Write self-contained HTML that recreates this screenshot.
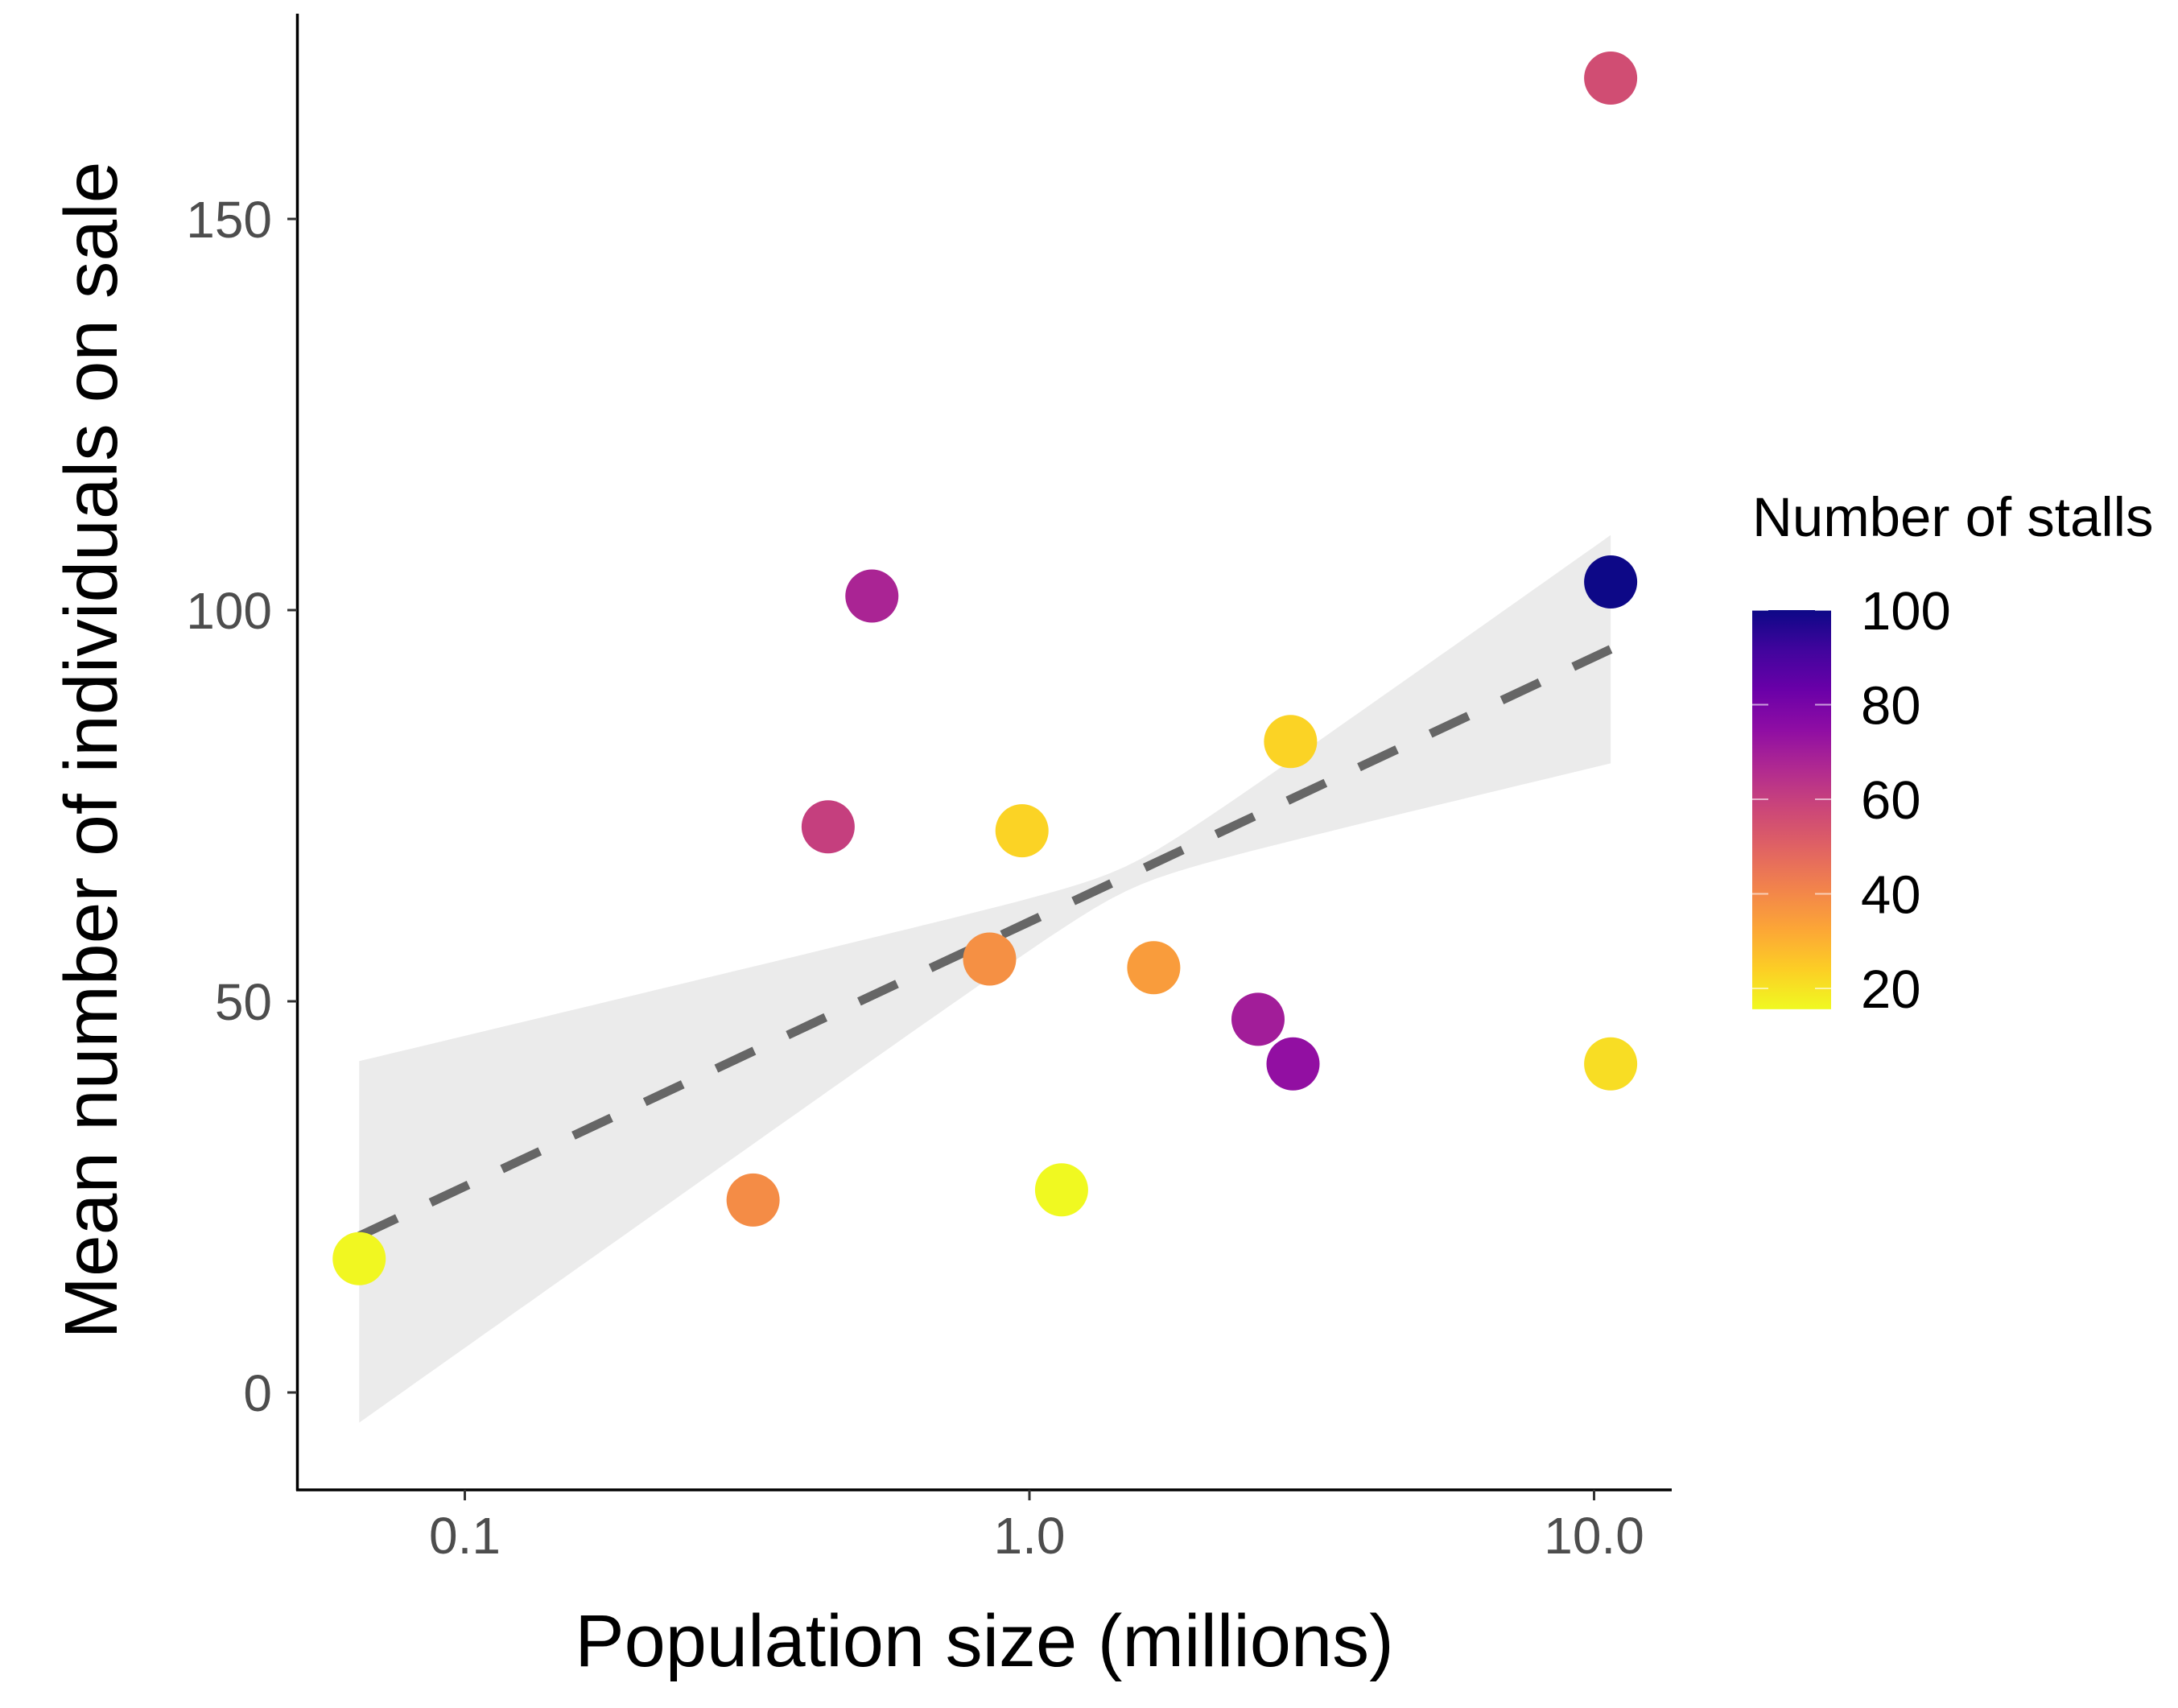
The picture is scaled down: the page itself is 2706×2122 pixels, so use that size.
<!DOCTYPE html>
<html><head><meta charset="utf-8"><style>
html,body{margin:0;padding:0;background:#fff;}
svg{display:block;font-family:"Liberation Sans",Arial,sans-serif;}
</style></head><body>
<svg id="chart" width="2706" height="2122" viewBox="0 0 2706 2122">
<defs>
<linearGradient id="plasma" x1="0" y1="1" x2="0" y2="0">
</linearGradient>
</defs>
<g id="ribbon-layer"></g>
<g id="line-layer"></g>
<g id="point-layer"></g>
<g id="axes-layer"></g>
<text transform="translate(145,932) rotate(-90)" text-anchor="middle" font-size="93" fill="#000">Mean number of individuals on sale</text>
<text x="1223" y="2070" text-anchor="middle" font-size="92" fill="#000">Population size (millions)</text>
<text x="2177" y="666" font-size="69" fill="#000">Number of stalls</text>
<g id="legend-layer"></g>
</svg>
<script>
const popMillions = [10.7, 10.7, 10.7, 0.526, 0.44, 0.97, 2.9, 0.85, 1.66, 2.54, 2.93, 0.324, 1.14, 0.065];
const meanIndividuals = [168, 103.6, 42, 101.8, 72.3, 71.8, 83.2, 55.4, 54.3, 47.7, 42, 24.6, 25.9, 17.1];
const stalls = [56, 100, 21, 68, 60, 23, 23, 38, 35, 70, 74, 39, 15, 16];
const yTicks = [0, 50, 100, 150];
const xTicks = [0.1, 1, 10];
const xTickLabels = ["0.1", "1.0", "10.0"];
const legendTicks = [20, 40, 60, 80, 100];
const fitEnds = [0.065, 10.7];
const fitValues = [20, 95];
const ribbonLow = [-3.8, 80.5];
const ribbonHigh = [42.3, 109.5];

const NS = "http://www.w3.org/2000/svg";
const svg = document.getElementById("chart");
function X(v){ return 1279 + 701.5 * Math.log10(v); }
function Y(v){ return 1730 - 9.72 * v; }
const cMin = 15.6, cMax = 100;
const plasmaStops = ["#0d0887","#41049d","#6a00a8","#8f0da4","#b12a90","#cc4778","#e16462","#f2844b","#fca636","#fcce25","#f0f921"];
function hex(h){ return [parseInt(h.substr(1,2),16),parseInt(h.substr(3,2),16),parseInt(h.substr(5,2),16)]; }
function colorFor(v){
  let t = (cMax - v) / (cMax - cMin); t = Math.max(0, Math.min(1, t));
  const p = t * 10, i = Math.min(9, Math.floor(p)), f = p - i;
  const a = hex(plasmaStops[i]), b = hex(plasmaStops[i+1]);
  return "rgb(" + a.map((c,k)=>Math.round(c + (b[k]-c)*f)).join(",") + ")";
}
function mk(tag, attrs, parent){
  const e = document.createElementNS(NS, tag);
  for (const k in attrs) e.setAttribute(k, attrs[k]);
  parent.appendChild(e); return e;
}
// ribbon: narrow hyperbolic band
const lt0 = Math.log10(fitEnds[0]), lt1 = Math.log10(fitEnds[1]);
const slope = (fitValues[1]-fitValues[0])/(lt1-lt0);
const hw0 = (ribbonHigh[0]-ribbonLow[0])/2, hw1 = (ribbonHigh[1]-ribbonLow[1])/2;
const tc = (hw0*lt1 + hw1*lt0)/(hw0+hw1);
const k = hw0/(tc-lt0);
const m2 = 2.5;
const up = [], lo = [];
for (let i = 0; i <= 80; i++){
  const t = lt0 + (lt1-lt0)*i/80;
  const cOff = ((ribbonHigh[0]+ribbonLow[0])/2 - fitValues[0])*(1-i/80) + ((ribbonHigh[1]+ribbonLow[1])/2 - fitValues[1])*(i/80);
  const c = fitValues[0] + slope*(t-lt0) + cOff;
  const hw = Math.sqrt(m2 + k*k*(t-tc)**2);
  const px = X(Math.pow(10,t));
  up.push(px.toFixed(1)+","+Y(c+hw).toFixed(1));
  lo.unshift(px.toFixed(1)+","+Y(c-hw).toFixed(1));
}
const rib = mk("polygon", {points: up.concat(lo).join(" "), fill:"#ebebeb"}, document.getElementById("ribbon-layer"));


const fl = mk("line", {x1:X(fitEnds[0]), y1:Y(fitValues[0]), x2:X(fitEnds[1]), y2:Y(fitValues[1]), stroke:"#666", "stroke-width":11, "stroke-dasharray":"52 46"}, document.getElementById("line-layer"));


const pl = document.getElementById("point-layer");
popMillions.forEach((p, i) => {
  const c = mk("circle", {cx:X(p), cy:Y(meanIndividuals[i]), r:33, fill:colorFor(stalls[i])}, pl);
  
  
});
const ax = document.getElementById("axes-layer");
const ya = mk("line", {x1:369.5, y1:17, x2:369.5, y2:1852, stroke:"#000", "stroke-width":3.5}, ax);


const xa = mk("line", {x1:368, y1:1851, x2:2077, y2:1851, stroke:"#000", "stroke-width":3.5}, ax);


yTicks.forEach(v => {
  mk("line", {x1:357, y1:Y(v), x2:369, y2:Y(v), stroke:"#333", "stroke-width":3}, ax);
  const t = mk("text", {x:338, y:Y(v)+23, "text-anchor":"end", "font-size":64, fill:"#4d4d4d"}, ax);
  t.textContent = v;
  
  
});
xTicks.forEach((v, i) => {
  mk("line", {x1:X(v), y1:1851, x2:X(v), y2:1864, stroke:"#333", "stroke-width":3}, ax);
  const t = mk("text", {x:X(v), y:1930, "text-anchor":"middle", "font-size":64, fill:"#4d4d4d"}, ax);
  t.textContent = xTickLabels[i];
  
  
});
// legend
const grad = document.getElementById("plasma");
for (let i = 0; i <= 20; i++){
  const v = cMin + (cMax - cMin) * i / 20;
  mk("stop", {offset:(i/20), "stop-color":colorFor(v)}, grad);
}
const lg = document.getElementById("legend-layer");
function LY(v){ return 1228 - (v - 20) * 5.875; }
const bar = mk("rect", {x:2177, y:LY(cMax), width:98, height:LY(cMin)-LY(cMax), fill:"url(#plasma)"}, lg);


legendTicks.forEach(v => {
  mk("line", {x1:2177, y1:LY(v), x2:2197, y2:LY(v), stroke:"#fff", "stroke-opacity":0.6, "stroke-width":2}, lg);
  mk("line", {x1:2255, y1:LY(v), x2:2275, y2:LY(v), stroke:"#fff", "stroke-opacity":0.6, "stroke-width":2}, lg);
  const t = mk("text", {x:2312, y:LY(v)+24, "font-size":67, fill:"#000"}, lg);
  t.textContent = v;
  
  
});
</script>
</body></html>
